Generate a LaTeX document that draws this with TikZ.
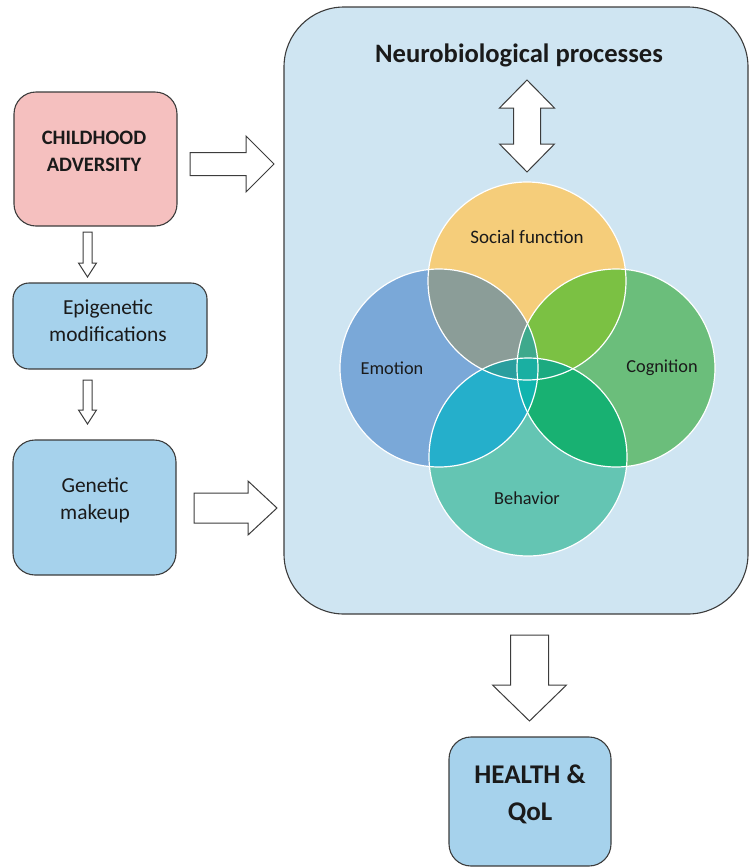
\documentclass[tikz,border=0pt]{standalone}
\usepackage{fontspec}
\setmainfont{Carlito}
\usetikzlibrary{calc}

\definecolor{panelblue}{HTML}{CFE5F2}
\definecolor{boxblue}{HTML}{A6D2EC}
\definecolor{boxpink}{HTML}{F5C0BF}
\definecolor{edge}{HTML}{3C3C3C}
\definecolor{inktext}{HTML}{1A1A1A}
% Venn colours: single sets, pairs, triples, all four
\definecolor{vS}{HTML}{F5CD7A}
\definecolor{vE}{HTML}{7AA8D8}
\definecolor{vC}{HTML}{6BBE7B}
\definecolor{vB}{HTML}{64C5B3}
\definecolor{vSE}{HTML}{8B9D98}
\definecolor{vSC}{HTML}{7BC143}
\definecolor{vEB}{HTML}{25AFCB}
\definecolor{vCB}{HTML}{18B172}
\definecolor{vSEC}{HTML}{3EA98C}
\definecolor{vSEB}{HTML}{2A9E9E}
\definecolor{vSCB}{HTML}{1CAA80}
\definecolor{vECB}{HTML}{10B4AE}
\definecolor{vAll}{HTML}{1AAFA2}

\tikzset{
  roundbox/.style={draw=edge, line width=1.1pt, rounded corners=22pt, inner sep=0pt},
  lbl/.style={text=inktext, align=center, inner sep=0pt},
  blockarrowstyle/.style={draw=edge, fill=white, line width=1pt, line join=miter},
  venn/.style={circle, draw=white, line width=1.2pt, minimum size=198pt, inner sep=0pt},
}

% block arrow: tail, tip, half shaft width, half head width, head length
\newcommand\blockarrow[5]{%
  \coordinate (bah) at ($(#2)!#5!(#1)$);
  \draw[blockarrowstyle]
    ($(#1)!#3!90:(#2)$) -- ($(bah)!#3!90:(#2)$) -- ($(bah)!#4!90:(#2)$) -- (#2)
    -- ($(bah)!#4!-90:(#2)$) -- ($(bah)!#3!-90:(#2)$) -- ($(#1)!#3!-90:(#2)$) -- cycle;
}

\begin{document}
\begin{tikzpicture}[x=1pt,y=-1pt]
\useasboundingbox (0,0) rectangle (749,868);

% large panel of neurobiological processes
\node[roundbox, fill=panelblue, rounded corners=60pt, minimum width=464pt, minimum height=607pt] (neuro) at (516,310.5) {};
\node[lbl, font=\bfseries\fontsize{26.6}{30}\selectfont] (neuro-t) at (519,55) {Neurobiological processes};

% left column
\node[roundbox, fill=boxpink, minimum width=163pt, minimum height=134pt] (adv) at (95.5,159) {};
\node[lbl, font=\bfseries\fontsize{20.5}{27}\selectfont] (adv-t) at (94,151) {CHILDHOOD\\ADVERSITY};

\node[roundbox, fill=boxblue, rounded corners=16pt, minimum width=194pt, minimum height=86pt] (epi) at (110,326) {};
\node[lbl, font=\fontsize{21.4}{27}\selectfont] (epi-t) at (108,321) {Epigenetic\\modifications};

\node[roundbox, fill=boxblue, minimum width=163pt, minimum height=135pt] (gen) at (94.5,507.5) {};
\node[lbl, font=\fontsize{21.4}{27}\selectfont] (gen-t) at (95,500) {Genetic\\makeup};

% outcome box
\node[roundbox, fill=boxblue, minimum width=162pt, minimum height=129pt] (health) at (530,801.5) {};
\node[lbl, font=\bfseries\fontsize{27}{37}\selectfont] (health-t) at (530,794) {HEALTH \&\\QoL};

% Venn of four overlapping domains
\coordinate (cS) at (527,281);
\coordinate (cE) at (439,368);
\coordinate (cC) at (616,368);
\coordinate (cB) at (528,457);
\def\R{99pt}

\fill[vS] (cS) circle (\R);
\fill[vE] (cE) circle (\R);
\fill[vC] (cC) circle (\R);
\fill[vB] (cB) circle (\R);
\begin{scope}
  \clip (cS) circle (\R);
  \fill[vSE] (cE) circle (\R);
  \fill[vSC] (cC) circle (\R);
  \fill[vSEB] (cB) circle (\R);
\end{scope}
\begin{scope}
  \clip (cB) circle (\R);
  \fill[vEB] (cE) circle (\R);
  \fill[vCB] (cC) circle (\R);
\end{scope}
\begin{scope}
  \clip (cE) circle (\R);
  \fill[vSEC] (cC) circle (\R);
\end{scope}
\begin{scope}
  \clip (cS) circle (\R);
  \clip (cE) circle (\R);
  \fill[vSEC] (cC) circle (\R);
  \fill[vSEB] (cB) circle (\R);
\end{scope}
\begin{scope}
  \clip (cS) circle (\R);
  \clip (cC) circle (\R);
  \fill[vSCB] (cB) circle (\R);
\end{scope}
\begin{scope}
  \clip (cE) circle (\R);
  \clip (cC) circle (\R);
  \fill[vECB] (cB) circle (\R);
\end{scope}
\begin{scope}
  \clip (cS) circle (\R);
  \clip (cE) circle (\R);
  \clip (cC) circle (\R);
  \fill[vAll] (cB) circle (\R);
\end{scope}

\node[venn] (social) at (cS) {};
\node[venn] (emotion) at (cE) {};
\node[venn] (cognition) at (cC) {};
\node[venn] (behavior) at (cB) {};

\node[lbl, font=\fontsize{19}{22}\selectfont] (social-t) at (527,237) {Social function};
\node[lbl, font=\fontsize{18.3}{22}\selectfont] (emotion-t) at (392,368) {Emotion};
\node[lbl, font=\fontsize{18.3}{22}\selectfont] (cognition-t) at (662,368) {Cognition};
\node[lbl, font=\fontsize{18.3}{22}\selectfont] (behavior-t) at (527,498) {Behavior};

% block arrows
\coordinate (a1s) at (190,164);   \coordinate (a1e) at (274,164);
\coordinate (a2s) at (194,508);   \coordinate (a2e) at (277,508);
\coordinate (s1s) at (87.5,232);  \coordinate (s1e) at (87.5,277);
\coordinate (s2s) at (87.5,380);  \coordinate (s2e) at (87.5,424);
\coordinate (a3s) at (529.5,635); \coordinate (a3e) at (529.5,721);

\blockarrow{a1s}{a1e}{11.5pt}{28pt}{28pt}
\blockarrow{a2s}{a2e}{15pt}{27pt}{29pt}
\blockarrow{s1s}{s1e}{4.5pt}{9pt}{14pt}
\blockarrow{s2s}{s2e}{4.5pt}{9pt}{14pt}
\blockarrow{a3s}{a3e}{19pt}{37pt}{36pt}

% two-headed arrow between title and the Venn
\coordinate (dtop) at (527,80);
\coordinate (dbot) at (527,172);
\draw[blockarrowstyle] (dtop) -- ++(27.5,28) -- ++(-14,0) -- ++(0,36) -- ++(14,0) -- (dbot)
  -- ++(-27.5,-28) -- ++(14,0) -- ++(0,-36) -- ++(-14,0) -- cycle;

\end{tikzpicture}
\end{document}
